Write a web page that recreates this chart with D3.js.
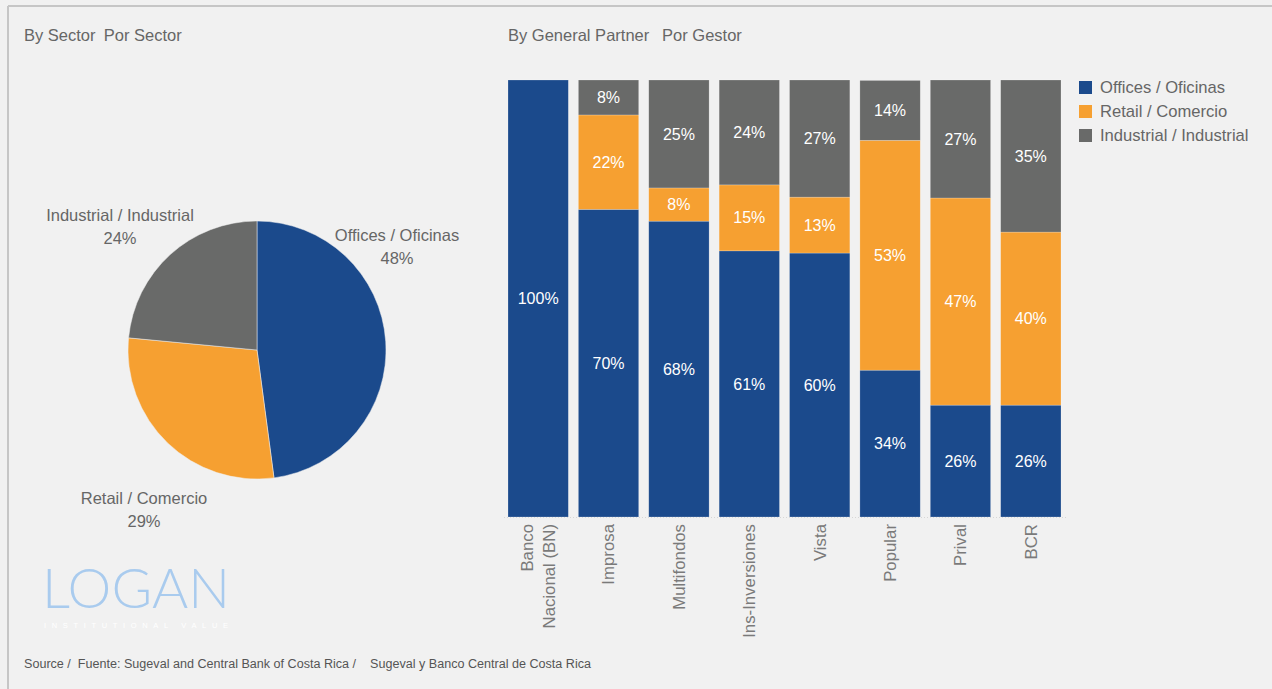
<!DOCTYPE html>
<html>
<head>
<meta charset="utf-8">
<script src="https://cdn.jsdelivr.net/npm/d3@7"></script>
<style>
  body { margin: 0; background: #f1f1f1; }
  svg { display: block; font-family: "Liberation Sans", Arial, sans-serif; }
</style>
</head>
<body>
<svg id="chart" width="1272" height="689"></svg>
<script>
// sectors (pie + legend)
var sectors = ["Offices / Oficinas", "Retail / Comercio", "Industrial / Industrial"];
var sectorShare = [47.9, 28.6, 23.5];
var sectorLabel = ["48%", "29%", "24%"];
var colors = ["#1b4a8c", "#f6a031", "#696a69"];

// general partners (stacked bars)
var partners = ["Banco\nNacional (BN)", "Improsa", "Multifondos", "Ins-Inversiones", "Vista", "Popular", "Prival", "BCR"];
var offices    = [100, 70.4, 67.7, 60.9, 60.4, 33.6, 25.6, 25.6];
var retail     = [0,   21.6,  7.6, 15.1, 12.8, 52.6, 47.4, 39.6];
var industrial = [0,    8.0, 24.7, 24.0, 26.8, 13.7, 27.0, 34.8];

var svg = d3.select("#chart");

//frame
svg.append("line").attr("x1", 8).attr("x2", 1272).attr("y1", 6).attr("y2", 6)
  .attr("stroke", "#c6c6c6").attr("stroke-width", 2);
svg.append("line").attr("x1", 8).attr("x2", 8).attr("y1", 6).attr("y2", 689)
  .attr("stroke", "#c6c6c6").attr("stroke-width", 2);

//titles
svg.append("text").attr("x", 24).attr("y", 41).attr("font-size", 16.5).attr("fill", "#666")
  .text("By Sector\u2002Por Sector");
svg.append("text").attr("x", 508).attr("y", 41).attr("font-size", 16.5).attr("fill", "#666")
  .text("By General Partner\u2002 Por Gestor");

//
//pie chart
//
var pieData = d3.pie().sort(null).value(function(d) { return d; })(sectorShare);
var arc = d3.arc().innerRadius(0).outerRadius(129);
var pieG = svg.append("g").attr("transform", "translate(257,350)");

pieG.selectAll("path")
  .data(pieData)
  .enter().append("path")
  .attr("d", arc)
  .attr("fill", function(d, i) { return colors[i]; })
  .attr("stroke", "#f1f1f1")
  .attr("stroke-width", 0.5);

// label spots picked "best fit" style, relative to pie centre
var labelSpot = [[140, -106], [-113, 157], [-137, -126]];
var pieLabels = pieG.selectAll("text.plabel")
  .data(pieData)
  .enter().append("text")
  .attr("class", "plabel")
  .attr("text-anchor", "middle")
  .attr("font-size", 16.5)
  .attr("fill", "#666")
  .attr("transform", function(d, i) { return "translate(" + labelSpot[i][0] + "," + labelSpot[i][1] + ")"; });
pieLabels.append("tspan").attr("x", 0).attr("dy", "-0.2em").text(function(d, i) { return sectors[i]; });
pieLabels.append("tspan").attr("x", 0).attr("dy", "1.4em").text(function(d, i) { return sectorLabel[i]; });

//
//stacked bars
//
var rows = partners.map(function(p, i) {
  return { name: p, offices: offices[i], retail: retail[i], industrial: industrial[i] };
});
var keys = ["offices", "retail", "industrial"];
var series = d3.stack().keys(keys)(rows);

var x = d3.scaleBand().domain(partners).range([508, 1061]).paddingInner(10 / 70).paddingOuter(0);
var y = d3.scaleLinear().domain([0, 100]).range([517, 80]);

//baseline
svg.append("line").attr("x1", 504).attr("x2", 1066).attr("y1", 517.5).attr("y2", 517.5)
  .attr("stroke", "#d6d6d6").attr("stroke-dasharray", "1,2");

var layers = svg.selectAll("g.layer")
  .data(series)
  .enter().append("g")
  .attr("class", "layer")
  .attr("fill", function(d, i) { return colors[i]; });

layers.selectAll("rect")
  .data(function(d) { return d; })
  .enter().append("rect")
  .attr("x", function(d) { return x(d.data.name); })
  .attr("y", function(d) { return y(d[1]); })
  .attr("width", x.bandwidth())
  .attr("height", function(d) { return y(d[0]) - y(d[1]); })
  .attr("stroke", "rgba(255,255,255,0.35)")
  .attr("stroke-width", 0.6);

layers.selectAll("text")
  .data(function(d) { return d.filter(function(s) { return s[1] - s[0] > 0; }); })
  .enter().append("text")
  .attr("x", function(d) { return x(d.data.name) + x.bandwidth() / 2; })
  .attr("y", function(d) { return (y(d[0]) + y(d[1])) / 2; })
  .attr("dy", "0.35em")
  .attr("text-anchor", "middle")
  .attr("font-size", 16)
  .attr("fill", "#fff")
  .text(function(d) { return Math.round(d[1] - d[0]) + "%"; });

//category labels, rotated
var xl = svg.selectAll("text.xlab")
  .data(partners)
  .enter().append("text")
  .attr("class", "xlab")
  .attr("text-anchor", "end")
  .attr("font-size", 16.8)
  .attr("fill", "#7a7a7a")
  .attr("transform", function(d) { return "translate(" + (x(d) + x.bandwidth() / 2) + ",524) rotate(-90)"; });
xl.each(function(d) {
  var lines = d.split("\n");
  var t = d3.select(this);
  lines.forEach(function(line, k) {
    var dy = lines.length == 1 ? "0.35em" : (k == 0 ? "-0.32em" : "1.33em");
    t.append("tspan").attr("x", 0).attr("dy", dy).text(line);
  });
});

//legend
var legend = svg.selectAll("g.legend")
  .data(sectors)
  .enter().append("g")
  .attr("class", "legend")
  .attr("transform", function(d, i) { return "translate(1079," + (81 + 24 * i) + ")"; });
legend.append("rect").attr("width", 13).attr("height", 13)
  .attr("fill", function(d, i) { return colors[i]; });
legend.append("text").attr("x", 21).attr("y", 12).attr("font-size", 16.6).attr("fill", "#666")
  .text(function(d) { return d; });

//logo
svg.append("text").attr("x", 42).attr("y", 608).attr("font-family", "Lato, sans-serif")
  .attr("font-weight", 300).attr("font-size", 55).attr("fill", "#a9cbee")
  .attr("textLength", 188).attr("lengthAdjust", "spacingAndGlyphs").text("LOGAN");
svg.append("text").attr("x", 44).attr("y", 628).attr("font-size", 7.5).attr("fill", "#ffffff")
  .attr("textLength", 184).text("INSTITUTIONAL VALUE");

//source
svg.append("text").attr("x", 24).attr("y", 668).attr("font-size", 12).attr("fill", "#555")
  .attr("textLength", 567).attr("lengthAdjust", "spacingAndGlyphs")
  .attr("xml:space", "preserve")
  .text("Source /  Fuente: Sugeval and Central Bank of Costa Rica /    Sugeval y Banco Central de Costa Rica");
</script>
</body>
</html>
